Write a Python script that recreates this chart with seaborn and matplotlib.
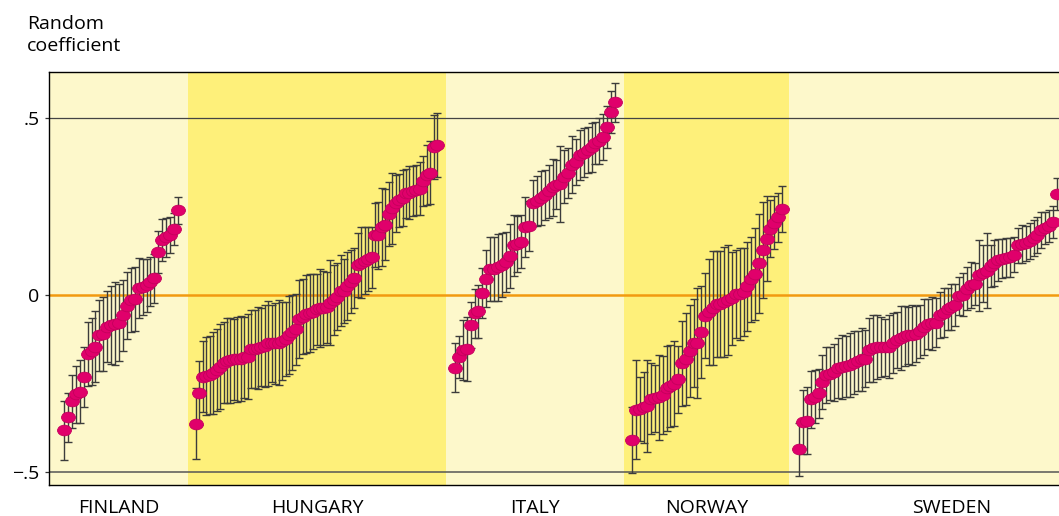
import matplotlib
matplotlib.use("Agg")
import matplotlib.pyplot as plt
from matplotlib.path import Path
from matplotlib.transforms import Affine2D
import numpy as np
import pandas as pd
import seaborn as sns

# Estimated random coefficients (sorted within country) and their half-widths
countries = ["FINLAND", "HUNGARY", "ITALY", "NORWAY", "SWEDEN"]

finland = [-0.383, -0.346, -0.301, -0.281, -0.273, -0.232, -0.166, -0.159, -0.146, -0.114,
           -0.111, -0.090, -0.084, -0.081, -0.078, -0.058, -0.030, -0.014, -0.011, 0.019,
           0.023, 0.027, 0.038, 0.047, 0.122, 0.155, 0.163, 0.169, 0.187, 0.239]
finland_err = [0.082, 0.07, 0.075, 0.08, 0.09, 0.085, 0.09, 0.095, 0.1, 0.1,
               0.105, 0.1, 0.11, 0.117, 0.11, 0.1, 0.095, 0.09, 0.09, 0.085,
               0.08, 0.075, 0.07, 0.07, 0.06, 0.06, 0.055, 0.05, 0.045, 0.038]

hungary = [-0.364, -0.278, -0.231, -0.229, -0.226, -0.221, -0.212, -0.203, -0.191, -0.186,
           -0.184, -0.182, -0.182, -0.180, -0.176, -0.174, -0.153, -0.152, -0.150, -0.148,
           -0.144, -0.137, -0.137, -0.137, -0.135, -0.129, -0.125, -0.113, -0.106, -0.097,
           -0.069, -0.061, -0.055, -0.052, -0.047, -0.040, -0.037, -0.037, -0.035, -0.022,
           -0.014, -0.005, 0.012, 0.012, 0.025, 0.038, 0.047, 0.085, 0.091, 0.097,
           0.101, 0.106, 0.169, 0.169, 0.191, 0.199, 0.229, 0.245, 0.259, 0.268,
           0.274, 0.287, 0.289, 0.293, 0.297, 0.300, 0.322, 0.339, 0.346, 0.419,
           0.424]
hungary_err = [0.10, 0.09, 0.10, 0.11, 0.11, 0.115, 0.115, 0.12, 0.115, 0.12,
               0.12, 0.115, 0.12, 0.12, 0.115, 0.12, 0.11, 0.11, 0.115, 0.11,
               0.115, 0.12, 0.11, 0.115, 0.12, 0.11, 0.105, 0.11, 0.105, 0.10,
               0.11, 0.105, 0.11, 0.11, 0.105, 0.10, 0.11, 0.105, 0.10, 0.12,
               0.10, 0.095, 0.10, 0.09, 0.095, 0.09, 0.085, 0.09, 0.10, 0.095,
               0.09, 0.085, 0.09, 0.095, 0.11, 0.10, 0.09, 0.10, 0.08, 0.075,
               0.08, 0.07, 0.075, 0.07, 0.07, 0.075, 0.07, 0.085, 0.09, 0.09,
               0.09]

italy = [-0.205, -0.176, -0.155, -0.152, -0.084, -0.052, -0.046, 0.005, 0.046, 0.073,
         0.074, 0.078, 0.084, 0.093, 0.110, 0.140, 0.144, 0.150, 0.191, 0.195,
         0.261, 0.266, 0.274, 0.282, 0.293, 0.304, 0.312, 0.314, 0.334, 0.344,
         0.368, 0.376, 0.395, 0.402, 0.410, 0.417, 0.430, 0.434, 0.445, 0.474,
         0.517, 0.545]
italy_err = [0.07, 0.06, 0.085, 0.09, 0.065, 0.07, 0.075, 0.07, 0.08, 0.09,
             0.09, 0.095, 0.09, 0.085, 0.09, 0.087, 0.08, 0.075, 0.085, 0.07,
             0.065, 0.07, 0.075, 0.07, 0.075, 0.08, 0.07, 0.108, 0.075, 0.07,
             0.08, 0.065, 0.07, 0.07, 0.065, 0.07, 0.06, 0.065, 0.065, 0.06,
             0.06, 0.055]

norway = [-0.410, -0.324, -0.322, -0.318, -0.313, -0.293, -0.292, -0.289, -0.283, -0.264,
          -0.257, -0.251, -0.238, -0.193, -0.181, -0.159, -0.136, -0.136, -0.105, -0.059,
          -0.048, -0.037, -0.025, -0.025, -0.020, -0.014, -0.010, 0.003, 0.003, 0.008,
          0.024, 0.044, 0.059, 0.090, 0.127, 0.159, 0.187, 0.204, 0.219, 0.244]
norway_err = [0.093, 0.14, 0.09, 0.1, 0.13, 0.1, 0.095, 0.12, 0.11, 0.12,
              0.115, 0.12, 0.095, 0.12, 0.13, 0.13, 0.125, 0.155, 0.13, 0.12,
              0.15, 0.16, 0.15, 0.15, 0.155, 0.155, 0.13, 0.125, 0.13, 0.125,
              0.125, 0.12, 0.13, 0.14, 0.135, 0.12, 0.08, 0.075, 0.07, 0.065]

sweden = [-0.436, -0.358, -0.355, -0.295, -0.287, -0.278, -0.246, -0.226, -0.223, -0.219,
          -0.207, -0.204, -0.202, -0.197, -0.191, -0.187, -0.182, -0.180, -0.155, -0.151,
          -0.148, -0.148, -0.148, -0.146, -0.136, -0.127, -0.122, -0.116, -0.114, -0.114,
          -0.110, -0.103, -0.091, -0.082, -0.080, -0.078, -0.056, -0.050, -0.040, -0.033,
          -0.029, -0.003, 0.001, 0.018, 0.027, 0.031, 0.056, 0.061, 0.069, 0.082,
          0.090, 0.099, 0.103, 0.105, 0.106, 0.114, 0.140, 0.144, 0.146, 0.153,
          0.161, 0.169, 0.184, 0.189, 0.195, 0.206, 0.285]
sweden_err = [0.075, 0.09, 0.095, 0.08, 0.075, 0.07, 0.075, 0.08, 0.075, 0.08,
              0.085, 0.09, 0.085, 0.09, 0.09, 0.085, 0.09, 0.08, 0.09, 0.095,
              0.09, 0.085, 0.08, 0.09, 0.085, 0.08, 0.09, 0.085, 0.08, 0.085,
              0.08, 0.075, 0.08, 0.07, 0.075, 0.07, 0.065, 0.07, 0.06, 0.065,
              0.06, 0.055, 0.06, 0.06, 0.065, 0.06, 0.1, 0.08, 0.105, 0.06,
              0.065, 0.06, 0.055, 0.055, 0.055, 0.05, 0.05, 0.055, 0.05, 0.05,
              0.05, 0.05, 0.05, 0.045, 0.045, 0.045, 0.045]

values = [finland, hungary, italy, norway, sweden]
errors = [finland_err, hungary_err, italy_err, norway_err, sweden_err]

# layout (x axis runs in figure pixels)
W, H = 1059, 516
band_edges = [49, 188, 446, 624, 789, 1115]
point_span = [(64, 178), (196, 437), (455, 615), (632, 782), (799, 1057)]
band_colors = ["#fdf8cb", "#fef07a", "#fdf8cb", "#fef07a", "#fdf8cb"]

rows = []
for c, v, e, (x0, x1) in zip(countries, values, errors, point_span):
    xs = np.linspace(x0, x1, len(v))
    for xi, vi, ei in zip(xs, v, e):
        rows.append({"country": c, "x": xi, "coef": vi, "err": ei})
df = pd.DataFrame(rows)

sns.set_style("white")
plt.rcParams["font.family"] = ["Open Sans", "DejaVu Sans"]
plt.rcParams["text.color"] = "black"
plt.rcParams["ytick.color"] = "black"

fig = plt.figure(figsize=(W / 100, H / 100), dpi=100)
ax = fig.add_axes([49 / W, (H - 485) / H, (1115 - 49) / W, (485 - 72) / H])
ax.set_xlim(49, 1115)
ax.set_ylim(-0.537, 0.630)

for i in range(len(countries)):
    ax.axvspan(band_edges[i], band_edges[i + 1], color=band_colors[i], lw=0, zorder=0)

ax.axhline(0.5, color="#444444", lw=0.9, zorder=1)
ax.axhline(-0.5, color="#555555", lw=1.1, zorder=1)
ax.axhline(0, color="#f29a10", lw=1.8, zorder=1)

ax.errorbar(df["x"], df["coef"], yerr=df["err"], fmt="none", ecolor="#3c3c3c",
            elinewidth=1.0, capsize=3.2, capthick=1.0, zorder=2)

ellipse = Path.unit_circle().transformed(Affine2D().scale(1.3, 1.0))
sns.scatterplot(data=df, x="x", y="coef", marker=ellipse, s=100, color="#e0006b",
                edgecolor="#c4005c", linewidth=0.6, ax=ax, zorder=3, legend=False)

ax.set_xlabel("")
ax.set_ylabel("")
ax.set_xticks([])
ax.set_yticks([0.5, 0, -0.5])
ax.set_yticklabels([".5", "0", "\u2212.5"], fontsize=14)
ax.tick_params(axis="y", direction="out", length=3, width=0.9, color="#333333",
               pad=4, left=True)
for side in ["left", "top", "bottom"]:
    ax.spines[side].set_color("black")
    ax.spines[side].set_linewidth(1.0)
ax.spines["right"].set_visible(False)

for i, c in enumerate(countries):
    xc = (band_edges[i] + band_edges[i + 1]) / 2
    ax.text(xc, -0.537 - 23 / 354, c, ha="center", va="center", fontsize=14)

fig.text(27 / W, 1 - 15 / H, "Random\ncoefficient", ha="left", va="top",
         fontsize=14, linespacing=1.3)

fig.savefig("out.png", dpi=100)
